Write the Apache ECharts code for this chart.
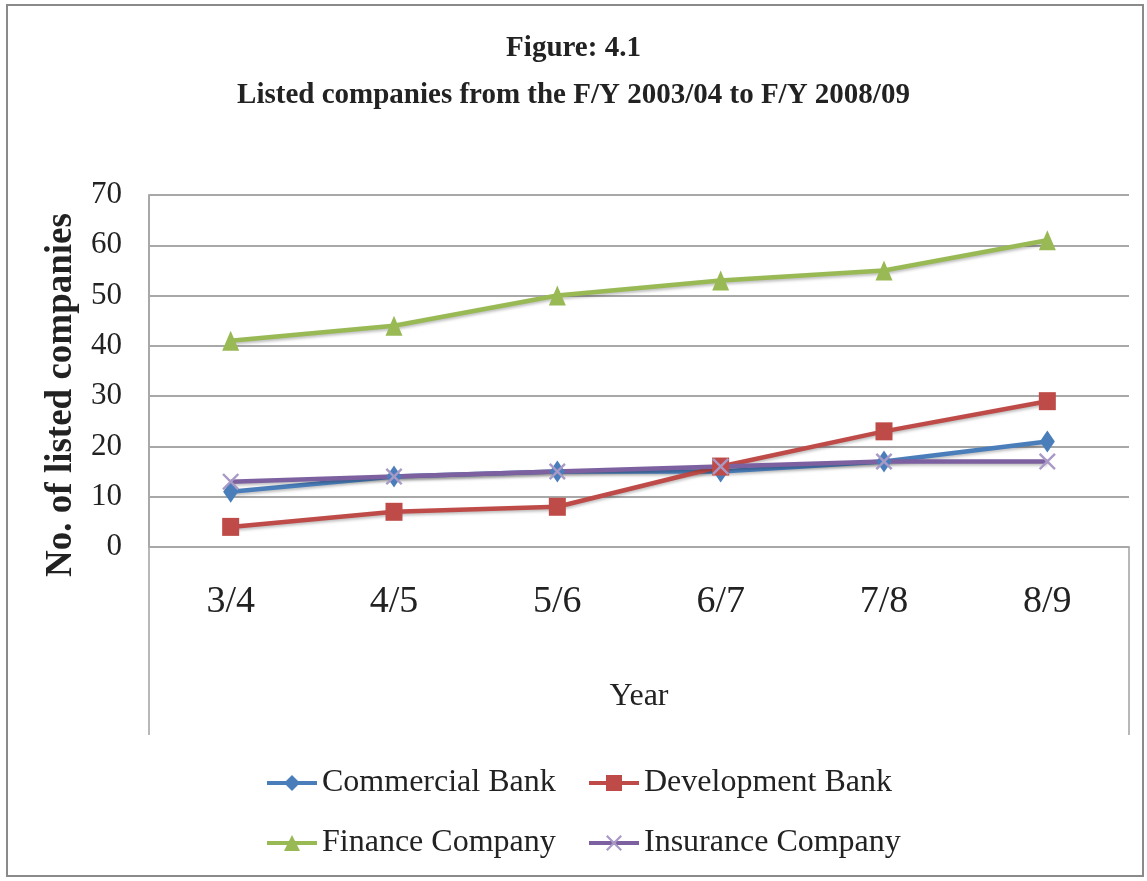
<!DOCTYPE html>
<html>
<head>
<meta charset="utf-8">
<script src="https://cdn.jsdelivr.net/npm/echarts@6/dist/echarts.min.js"></script>
<style>html,body{margin:0;padding:0;background:#fff;}#c{width:1147px;height:881px;}</style>
</head>
<body>
<div id="c"></div>
<script>
const categories = ['3/4', '4/5', '5/6', '6/7', '7/8', '8/9'];
const commercialBank = [11, 14, 15, 15, 17, 21];
const developmentBank = [4, 7, 8, 16, 23, 29];
const financeCompany = [41, 44, 50, 53, 55, 61];
const insuranceCompany = [13, 14, 15, 16, 17, 17];
const seriesNames = ['Commercial Bank', 'Development Bank', 'Finance Company', 'Insurance Company'];
const yTicks = { min: 0, max: 70, interval: 10 };

const FONT = '"Liberation Serif", "Times New Roman", serif';
const colors = ['#4A7EBB', '#BE4B48', '#98B954', '#7D60A0'];
const xPath = 'path://M0,1L1,0L5,4L9,0L10,1L6,5L10,9L9,10L5,6L1,10L0,9L4,5Z';

const chart = echarts.init(document.getElementById('c'));

function lineSeries(name, data, color, symbol, size, markerColor) {
  return {
    name: name, type: 'line', data: data,
    symbol: symbol, symbolSize: size,
    lineStyle: { color: color, width: 4.5, shadowColor: 'rgba(0,0,0,0.25)', shadowBlur: 3, shadowOffsetY: 2 },
    itemStyle: { color: markerColor || color },
    emphasis: { disabled: true },
    animation: false
  };
}

const legendBase = {
  itemWidth: 50, itemHeight: 20, itemGap: 5, padding: 0,
  lineStyle: { width: 4 },
  textStyle: { fontFamily: FONT, fontSize: 32, color: '#222' }
};

chart.setOption({
  backgroundColor: '#fff',
  color: colors,
  animation: false,
  title: [
    { text: 'Figure: 4.1', left: 'center', top: 29, textStyle: { fontFamily: FONT, fontSize: 29, fontWeight: 'bold', color: '#222' } },
    { text: 'Listed companies from the F/Y 2003/04 to F/Y 2008/09', left: 'center', top: 76, textStyle: { fontFamily: FONT, fontSize: 29, fontWeight: 'bold', color: '#222' } }
  ],
  grid: { left: 149, right: 18, top: 195, bottom: 334, containLabel: false },
  xAxis: {
    type: 'category', data: categories, boundaryGap: true,
    axisLine: { show: true, lineStyle: { color: '#a8a8a8', width: 2 } },
    axisTick: { show: false },
    axisLabel: { fontFamily: FONT, fontSize: 38, color: '#222', margin: 36 },
    name: 'Year', nameLocation: 'middle', nameGap: 134,
    nameTextStyle: { fontFamily: FONT, fontSize: 32, color: '#222' }
  },
  yAxis: {
    type: 'value', min: yTicks.min, max: yTicks.max, interval: yTicks.interval,
    axisLine: { show: true, lineStyle: { color: '#a8a8a8', width: 2 } },
    axisTick: { show: false },
    splitLine: { lineStyle: { color: '#a8a8a8', width: 2 } },
    axisLabel: { fontFamily: FONT, fontSize: 31, color: '#222', margin: 27 }
  },
  legend: [
    Object.assign({ data: [seriesNames[0]], left: 265, top: 767 }, legendBase),
    Object.assign({ data: [seriesNames[1]], left: 587, top: 767 }, legendBase),
    Object.assign({ data: [seriesNames[2]], left: 265, top: 827 }, legendBase),
    Object.assign({ data: [seriesNames[3]], left: 587, top: 827 }, legendBase)
  ],
  graphic: [
    { type: 'rect', shape: { x: 7, y: 5, width: 1136, height: 871 }, style: { fill: null, stroke: '#8a8a8a', lineWidth: 2 }, silent: true },
    { type: 'line', shape: { x1: 149, y1: 547, x2: 149, y2: 735 }, style: { stroke: '#b8b8b8', lineWidth: 2 }, silent: true },
    { type: 'line', shape: { x1: 1129, y1: 547, x2: 1129, y2: 735 }, style: { stroke: '#b8b8b8', lineWidth: 2 }, silent: true },
    { type: 'text', x: 61, y: 395, rotation: Math.PI / 2, silent: true,
      style: { text: 'No. of listed companies', fontFamily: FONT, fontSize: 37, fontWeight: 'bold', fill: '#222', align: 'center', verticalAlign: 'middle' } }
  ],
  series: [
    lineSeries(seriesNames[0], commercialBank, colors[0], 'diamond', [15, 22]),
    lineSeries(seriesNames[1], developmentBank, colors[1], 'rect', [17, 18]),
    lineSeries(seriesNames[2], financeCompany, colors[2], 'triangle', [17, 20]),
    lineSeries(seriesNames[3], insuranceCompany, colors[3], xPath, [17, 17], '#a899c6')
  ]
});
</script>
</body>
</html>
